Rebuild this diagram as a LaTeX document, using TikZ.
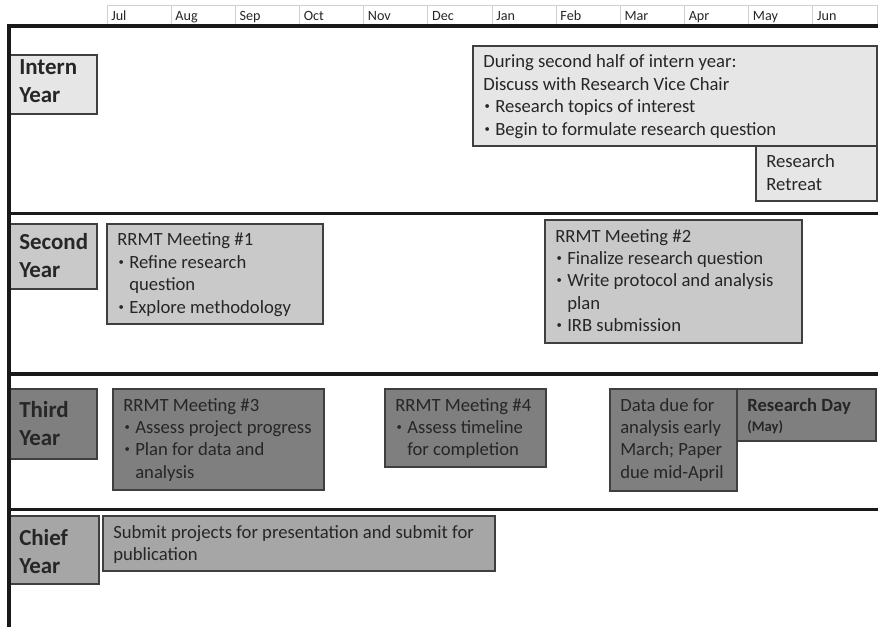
\documentclass[tikz,border=0pt]{standalone}
\usepackage{fontspec}
\setmainfont{Carlito}
\definecolor{txt}{HTML}{262626}
\definecolor{cIntern}{HTML}{E6E6E6}
\definecolor{cSecond}{HTML}{C9C9C9}
\definecolor{cThird}{HTML}{7F7F7F}
\definecolor{cChief}{HTML}{A6A6A6}
\definecolor{cBorder}{HTML}{3F3F3F}
\definecolor{cHdr}{HTML}{D0D0D0}
\newcommand{\bul}{\makebox[9pt][l]{\hspace{1pt}\raisebox{2.3pt}{\fontsize{8}{8}\selectfont\textbullet}}}
\newcommand{\hang}{\hspace*{9pt}}
\begin{document}
\begin{tikzpicture}[x=0.75pt,y=-0.75pt,
  rulebar/.style={line width=2.3pt, draw=black!90, line cap=rect},
  hdrcell/.style={draw=cHdr, line width=0.6pt},
  monthtxt/.style={font=\fontsize{10.6}{12}\selectfont, text=txt, inner sep=0pt, anchor=base west},
  boxshape/.style={draw=cBorder, line width=0.8pt},
  boxtxt/.style={font=\fontsize{14}{16.8}\selectfont, text=txt, inner sep=0pt, anchor=base west, align=left},
  labtxt/.style={font=\fontsize{17.2}{21}\selectfont\bfseries, text=txt, inner sep=0pt, anchor=base west, align=left}]
\useasboundingbox (0,0) rectangle (878,627);
% header
\foreach \m [count=\i from 0] in {Jul,Aug,Sep,Oct,Nov,Dec,Jan,Feb,Mar,Apr,May,Jun} {
  \draw[hdrcell] ({107+64.17*\i},5.5) rectangle ({107+64.17*(\i+1)},26);
  \node[monthtxt] (m\i) at ({107+64.17*\i+4},20.7) {\m};
}
% label boxes (anchor = baseline of last line)
\draw[boxshape, fill=cIntern] (10,55) rectangle (97,114);
\node[labtxt] (lab1) at (19,103) {Intern\\Year};
\draw[boxshape, fill=cSecond] (10,224) rectangle (97,289);
\node[labtxt] (lab2) at (19,278) {Second\\Year};
\draw[boxshape, fill=cThird] (10,389) rectangle (97,459);
\node[labtxt] (lab3) at (19,445) {Third\\Year};
\draw[boxshape, fill=cChief] (10,516) rectangle (99,584);
\node[labtxt] (lab4) at (19,573) {Chief\\Year};
% intern year
\draw[boxshape, fill=cIntern] (473,46) rectangle (877,146);
\node[boxtxt] (i1) at (483,135.2) {During second half of intern year:\\Discuss with Research Vice Chair\\\bul Research topics of interest\\\bul Begin to formulate research question};
\draw[boxshape, fill=cIntern] (756,146) rectangle (877,201);
\node[boxtxt] (i2) at (766,190.4) {Research\\Retreat};
% second year
\draw[boxshape, fill=cSecond] (107,224) rectangle (323,324);
\node[boxtxt] (s1) at (117,313.2) {RRMT Meeting \#1\\\bul Refine research\\\hang question\\\bul Explore methodology};
\draw[boxshape, fill=cSecond] (545,220) rectangle (802,343);
\node[boxtxt] (s2) at (555,331.6) {RRMT Meeting \#2\\\bul Finalize research question\\\bul Write protocol and analysis\\\hang plan\\\bul IRB submission};
% third year
\draw[boxshape, fill=cThird] (113,389) rectangle (324,490);
\node[boxtxt] (t1) at (123,478.2) {RRMT Meeting \#3\\\bul Assess project progress\\\bul Plan for data and\\\hang analysis};
\draw[boxshape, fill=cThird] (385,389) rectangle (546,467);
\node[boxtxt] (t2) at (395,455.8) {RRMT Meeting \#4\\\bul Assess timeline\\\hang for completion};
\draw[boxshape, fill=cThird] (610,389) rectangle (737,491);
\node[boxtxt] (t3) at (620,478.2) {Data due for\\analysis early\\March; Paper\\due mid-April};
\draw[boxshape, fill=cThird] (737,389) rectangle (876,441);
\node[boxtxt, font=\fontsize{14}{16.8}\selectfont\bfseries] (t4) at (747,411) {Research Day};
\node[boxtxt, font=\fontsize{11}{13}\selectfont\bfseries] (t4b) at (747,431) {(May)};
% chief year
\draw[boxshape, fill=cChief] (103,516) rectangle (495,571);
\node[boxtxt] (c1) at (113,560.4) {Submit projects for presentation and submit for\\publication};
% thick rules
\draw[rulebar] (9,627) -- (9,26) -- (878,26);
\draw[rulebar] (9,213.5) -- (878,213.5);
\draw[rulebar] (9,374) -- (878,374);
\draw[rulebar] (9,509.5) -- (878,509.5);
\end{tikzpicture}
\end{document}
